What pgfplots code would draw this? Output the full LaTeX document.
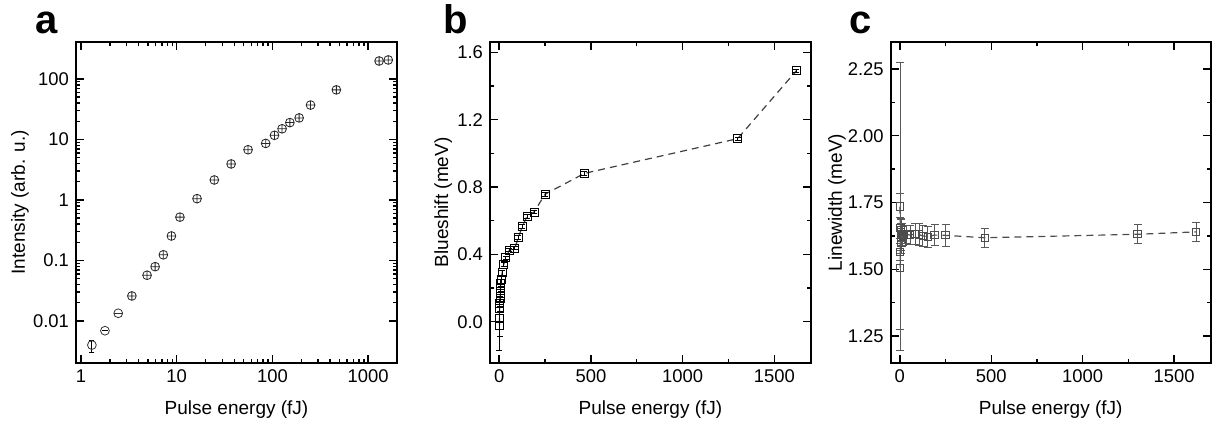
\documentclass[border=0pt]{standalone}
\usepackage{pgfplots}
\pgfplotsset{compat=1.18}
\usepackage{fontspec}
\setmainfont{Liberation Sans}
\pgfplotsset{
  myaxis/.style={
    scale only axis,
    anchor=south west,
    /pgf/number format/assume math mode=true,
    /pgf/number format/1000 sep={},
    tick label style={font=\fontsize{9.2}{10}\selectfont},
    label style={font=\fontsize{9.5}{10}\selectfont},
    axis line style={line width=0.9pt},
    every tick/.append style={line width=0.7pt, black},
    major tick length=4pt, minor tick length=2pt,
    xlabel style={at={(axis description cs:0.5,-0.16)}, anchor=base},
    clip=false,
  }
}
\begin{document}
\begin{tikzpicture}
\useasboundingbox (0,0) rectangle (606pt,211.5pt);
% ---------------- panel a ----------------
\begin{axis}[myaxis, at={(38pt,30pt)}, width=160.5pt, height=160.5pt,
  xmode=log, ymode=log, xmin=0.887, xmax=2000, ymin=0.00202, ymax=408,
  xtick={1,10,100,1000}, xticklabels={1,10,100,1000},
  ytick={0.01,0.1,1,10,100}, yticklabels={0.01,0.1,1,10,100},
  xlabel={Pulse energy (fJ)}, ylabel={Intensity (arb. u.)},
  ylabel style={at={(axis description cs:-0.1745,0.5)}, anchor=center}]
\addplot[only marks, mark=o, mark size=2.2pt, black!80, mark options={fill=white},
  error bars/.cd, y dir=both, y explicit, error bar style={black, line width=0.5pt}, error mark options={rotate=90, mark size=1.3pt}]
  coordinates {(1.3,0.0040) += (0,0.00085) -= (0,0.001) (1.78,0.0069) += (0,0) -= (0,0)};
\addplot[only marks, mark=o, mark size=2.2pt, black!80, mark options={fill=gray!20}] coordinates {(2.45,0.0134)};
\addplot[only marks, mark=-, mark size=2.2pt, black!80] coordinates {(2.45,0.0134)};
\addplot[only marks, mark=oplus, mark size=2.2pt, black!85, mark options={fill=gray!35}] coordinates {
 (3.4,0.0259) (4.9,0.057) (5.95,0.079) (7.25,0.124) (8.8,0.254) (10.8,0.52)
 (16.3,1.05) (24.7,2.14) (37,3.94) (55.6,6.76) (85,8.6) (105,11.7) (126,15)
 (152,19) (190,22.7) (250,37) (465,66) (1300,198) (1620,206)};
\node[anchor=base west, inner sep=0pt, font=\fontsize{20}{20}\selectfont\bfseries] at (axis description cs:-0.128,1.027) {a};
\end{axis}
% ---------------- panel b ----------------
\begin{axis}[myaxis, at={(245pt,30pt)}, width=160.5pt, height=160.5pt,
  xmin=-50, xmax=1700, ymin=-0.245, ymax=1.661,
  xtick={0,500,1000,1500}, minor x tick num=1,
  ytick={0,0.4,0.8,1.2,1.6}, minor y tick num=1,
  yticklabel style={/pgf/number format/.cd, fixed, fixed zerofill, precision=1},
  xlabel={Pulse energy (fJ)}, ylabel={Blueshift (meV)},
  ylabel style={at={(axis description cs:-0.1455,0.5)}, anchor=center}]
\addplot[black!75, line width=0.6pt, dash pattern=on 3.5pt off 2.5pt, mark=square, mark size=2pt,
  mark options={solid, black, line width=0.5pt},
  error bars/.cd, y dir=both, y explicit, error bar style={solid, black, line width=0.5pt}, error mark options={rotate=90, mark size=1.5pt}]
  coordinates {
 (1.3,-0.02) +- (0,0.15) (1.78,0.02) +- (0,0.11) (2.45,0.08) +- (0,0.02) (3.4,0.11) +- (0,0.02)
 (4.9,0.14) +- (0,0.02) (5.95,0.17) +- (0,0.02) (7.25,0.20) +- (0,0.02) (8.8,0.23) +- (0,0.02)
 (10.8,0.25) +- (0,0.02) (16.3,0.29) +- (0,0.015) (24.7,0.34) +- (0,0.01) (37,0.38) +- (0,0.01)
 (55.6,0.425) +- (0,0.01) (85,0.437) +- (0,0.01) (105,0.50) +- (0,0.01) (126,0.567) +- (0,0.01)
 (152,0.626) +- (0,0.01) (190,0.651) +- (0,0.01) (250,0.757) +- (0,0.01) (465,0.881) +- (0,0.01)
 (1300,1.087) +- (0,0.01) (1620,1.49) +- (0,0.01)};
\node[anchor=base west, inner sep=0pt, font=\fontsize{20}{20}\selectfont\bfseries] at (axis description cs:-0.146,1.027) {b};
\end{axis}
% ---------------- panel c ----------------
\begin{axis}[myaxis, at={(445.35pt,30pt)}, width=160pt, height=160.5pt,
  xmin=-50, xmax=1700, ymin=1.149, ymax=2.351,
  xtick={0,500,1000,1500}, minor x tick num=1,
  ytick={1.25,1.5,1.75,2,2.25}, minor y tick num=1,
  yticklabel style={/pgf/number format/.cd, fixed, fixed zerofill, precision=2},
  xlabel={Pulse energy (fJ)}, ylabel={Linewidth (meV)},
  ylabel style={at={(axis description cs:-0.168,0.5)}, anchor=center}]
\addplot[black!70, line width=0.6pt, dash pattern=on 3.5pt off 2.5pt, mark=square, mark size=1.8pt,
  mark options={solid, black!70, line width=0.5pt},
  error bars/.cd, y dir=both, y explicit, error bar style={solid, black!65, line width=0.5pt}, error mark options={rotate=90, mark size=2pt}]
  coordinates {
 (1.3,1.735) +- (0,0.54) (1.78,1.505) += (0,0.28) -= (0,0.23) (2.45,1.565) +- (0,0.03)
 (3.4,1.655) +- (0,0.04) (4.9,1.64) +- (0,0.05) (5.95,1.62) +- (0,0.05) (7.25,1.645) +- (0,0.04)
 (8.8,1.60) +- (0,0.04) (10.8,1.63) +- (0,0.04) (16.3,1.625) +- (0,0.035) (24.7,1.63) +- (0,0.035)
 (37,1.63) +- (0,0.035) (55.6,1.628) +- (0,0.035) (85,1.632) +- (0,0.04) (105,1.63) +- (0,0.04)
 (126,1.625) +- (0,0.04) (152,1.622) +- (0,0.04) (190,1.628) +- (0,0.04) (250,1.627) +- (0,0.042)
 (465,1.618) +- (0,0.036) (1300,1.631) +- (0,0.036) (1620,1.64) +- (0,0.037)};
\node[anchor=base west, inner sep=0pt, font=\fontsize{20}{20}\selectfont\bfseries] at (axis description cs:-0.129,1.027) {c};
\end{axis}
\end{tikzpicture}
\end{document}
